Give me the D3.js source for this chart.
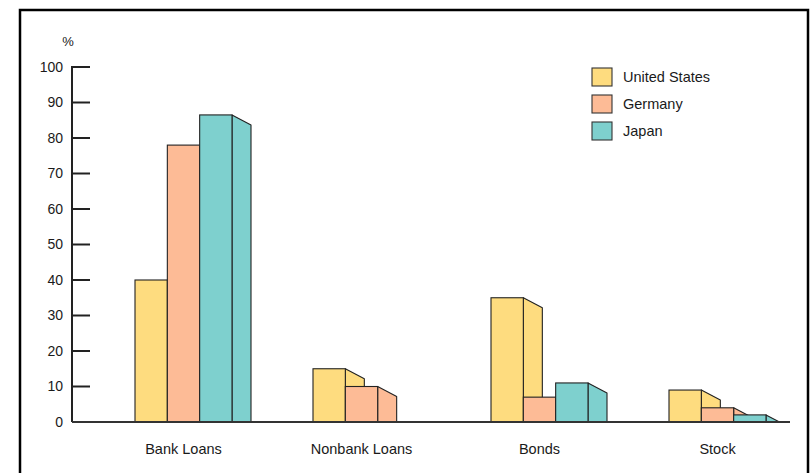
<!DOCTYPE html>
<html>
<head>
<meta charset="utf-8">
<script src="https://cdn.jsdelivr.net/npm/d3@7"></script>
<style>
  html, body { margin: 0; padding: 0; background: #fff; }
  svg { display: block; }
  text { font-family: "Liberation Sans", Arial, Helvetica, sans-serif; fill: #1a1a1a; }
</style>
</head>
<body>
<svg id="chart" width="810" height="473"></svg>
<script>
const categories = ["Bank Loans", "Nonbank Loans", "Bonds", "Stock"];
const seriesNames = ["United States", "Germany", "Japan"];
const usValues = [40, 15, 35, 9];
const germanyValues = [78, 10, 7, 4];
const japanValues = [86.5, 0, 11, 2];
const yTicks = [0, 10, 20, 30, 40, 50, 60, 70, 80, 90, 100];
const colors = ["#fedc7f", "#fdbb96", "#7ed0ce"];

const seriesValues = [usValues, germanyValues, japanValues];

const svg = d3.select("#chart");

// frame
svg.append("path")
  .attr("d", "M20,475 L20,10 L808,10 L808,475")
  .attr("fill", "none").attr("stroke", "#000").attr("stroke-width", 2.5);

const y = d3.scaleLinear().domain([0, 100]).range([422, 67]);
const x0 = d3.scaleBand().domain(categories).range([94.5, 806.5]).padding(0);
const groupW = 97;
const x1 = d3.scaleBand().domain(seriesNames).range([0, groupW]).padding(0);

const depthX = 19, depthY = 10;
const base = y(0);

// y axis
const yAxis = d3.axisLeft(y).tickValues(yTicks).tickSize(0).tickPadding(9);
const gy = svg.append("g").attr("transform", "translate(72,0)").call(yAxis);
gy.select(".domain").remove();
gy.selectAll("text").style("font-size", "14px").attr("fill", "#1a1a1a");
svg.append("line").attr("x1", 72).attr("x2", 72).attr("y1", y(100) - 1).attr("y2", base)
  .attr("stroke", "#222").attr("stroke-width", 2);
svg.append("g").selectAll("line").data(yTicks).join("line")
  .attr("x1", 72).attr("x2", 90)
  .attr("y1", d => y(d)).attr("y2", d => y(d))
  .attr("stroke", "#222").attr("stroke-width", 2);

svg.append("text").attr("x", 68).attr("y", 46).attr("text-anchor", "middle")
  .style("font-size", "13px").text("%");

// bars
const groups = svg.append("g").selectAll("g").data(categories).join("g")
  .attr("transform", c => `translate(${x0(c) + x0.bandwidth() / 2 - groupW / 2},0)`);

groups.each(function(c, ci) {
  const g = d3.select(this);
  seriesNames.forEach((s, si) => {
    const v = seriesValues[si][ci];
    if (v <= 0) return;
    const xl = x1(s), xr = x1(s) + x1.bandwidth();
    const top = y(v);
    const h = base - top;
    let side;
    if (h >= depthY) {
      side = [[xr, top], [xr + depthX, top + depthY], [xr + depthX, base], [xr, base]];
    } else {
      side = [[xr, top], [xr + depthX * h / depthY, base], [xr, base]];
    }
    g.append("path")
      .attr("d", "M" + side.map(p => p.join(",")).join("L") + "Z")
      .attr("fill", colors[si]).attr("stroke", "#222").attr("stroke-width", 1.1)
      .attr("stroke-linejoin", "round");
    g.append("rect")
      .attr("x", xl).attr("y", top).attr("width", xr - xl).attr("height", h)
      .attr("fill", colors[si]).attr("stroke", "#222").attr("stroke-width", 1.1);
  });
});

// baseline
svg.append("line").attr("x1", 72).attr("x2", 790).attr("y1", base).attr("y2", base)
  .attr("stroke", "#333").attr("stroke-width", 2);

// category labels
const xAxis = d3.axisBottom(x0).tickSize(0).tickPadding(22);
const gx = svg.append("g").attr("transform", `translate(0,${base})`).call(xAxis);
gx.select(".domain").remove();
gx.selectAll("text").style("font-size", "14.5px").attr("fill", "#1a1a1a");

// legend
const legend = svg.append("g").selectAll("g").data(seriesNames).join("g")
  .attr("transform", (d, i) => `translate(592,${68 + i * 27})`);
legend.append("rect").attr("width", 20).attr("height", 18)
  .attr("fill", (d, i) => colors[i]).attr("stroke", "#333").attr("stroke-width", 1.1);
legend.append("text").attr("x", 31).attr("y", 14).style("font-size", "14.5px").text(d => d);
</script>
</body>
</html>
